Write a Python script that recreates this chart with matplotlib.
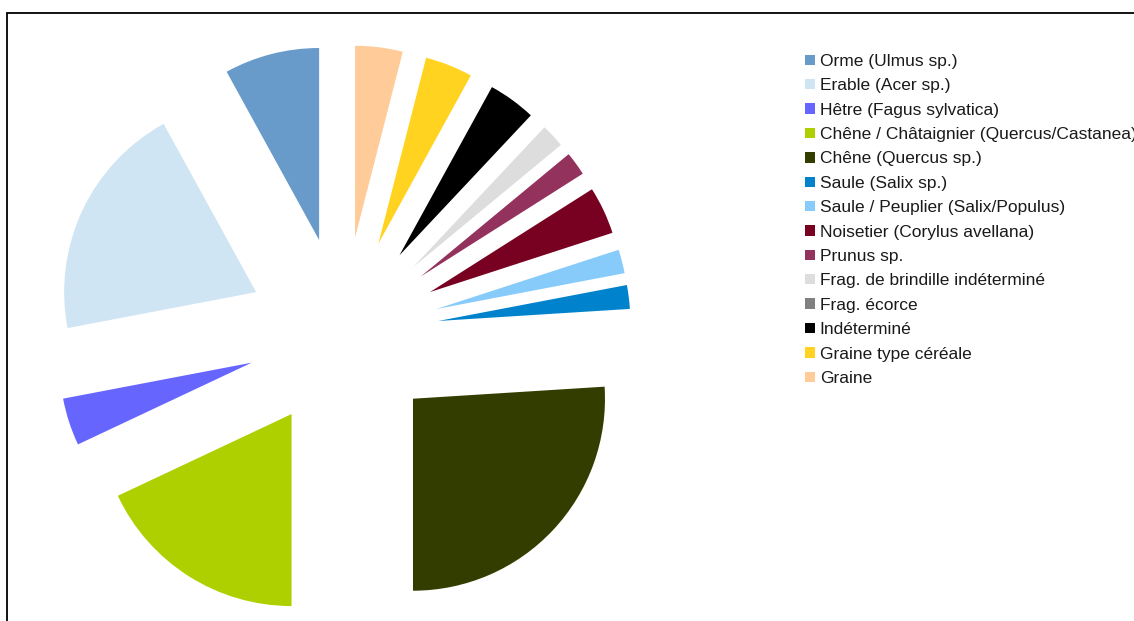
import matplotlib.pyplot as plt
from matplotlib.patches import Rectangle, Patch

plt.rcParams['font.family'] = ['Liberation Sans', 'DejaVu Sans']

# Nombre de fragments par taxon (total 50)
labels = ['Orme (Ulmus sp.)', 'Erable (Acer sp.)', 'Hêtre (Fagus sylvatica)',
          'Chêne / Châtaignier (Quercus/Castanea)', 'Chêne (Quercus sp.)',
          'Saule (Salix sp.)', 'Saule / Peuplier (Salix/Populus)',
          'Noisetier (Corylus avellana)', 'Prunus sp.',
          'Frag. de brindille indéterminé', 'Frag. écorce', 'Indéterminé',
          'Graine type céréale', 'Graine']
counts = [4, 10, 2, 9, 13, 1, 1, 2, 1, 1, 0, 2, 2, 2]
colors = ['#689ACA', '#CFE5F3', '#6666FF', '#AFD000', '#333D00',
          '#0083CC', '#87CBFB', '#780020', '#94325E',
          '#DDDDDD', '#808080', '#000000', '#FFD320', '#FFCB99']

W, H = 1134, 621
fig = plt.figure(figsize=(W / 100, H / 100), dpi=100)

# cadre (coupé à droite et en bas)
fig.patches.append(Rectangle((7 / W, -0.1), 1.2, 1 - 13 / H + 0.1,
                             transform=fig.transFigure, fill=False,
                             edgecolor='black', linewidth=1.3))

ax = fig.add_axes([0, 0, 1, 1])
r_px = 192
cx, cy = 343, 333
ax.pie(counts, colors=colors, startangle=90, counterclock=True,
       explode=[0.5] * len(counts), radius=1,
       wedgeprops=dict(linewidth=0))
ax.set_xlim(-cx / r_px, (W - cx) / r_px)
ax.set_ylim(-(H - cy) / r_px, cy / r_px)
ax.set_aspect('auto')
ax.axis('off')

handles = [Patch(facecolor=c, edgecolor='none') for c in colors]
leg = fig.legend(handles, labels, loc='upper left',
                 bbox_to_anchor=(805 / W, 1 - 54 / H),
                 frameon=False, fontsize=12.5, handlelength=0.55,
                 handleheight=0.55, handletextpad=0.3, labelspacing=0.54,
                 borderpad=0, borderaxespad=0)
for t in leg.get_texts():
    t.set_color('#1a1a1a')

fig.savefig('out.png', dpi=100)
